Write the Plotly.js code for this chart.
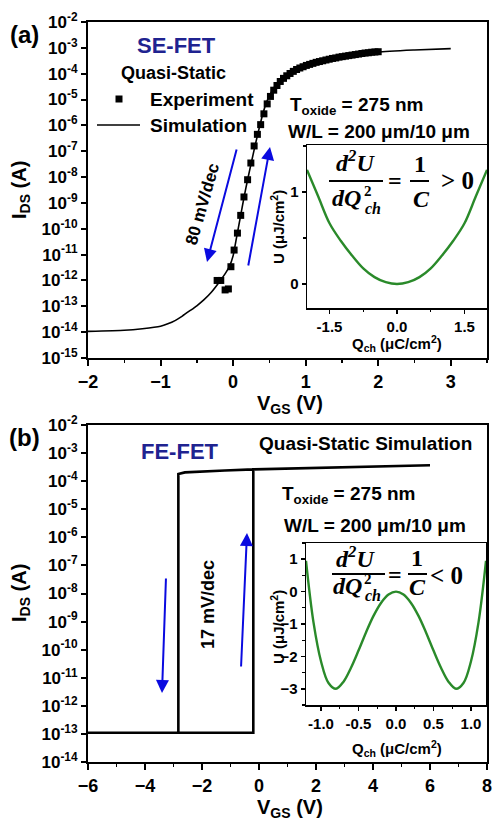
<!DOCTYPE html>
<html>
<head>
<meta charset="utf-8">
<script src="https://cdn.plot.ly/plotly-3.0.1.min.js"></script>
<style>
  html, body { margin: 0; padding: 0; background: #fff; }
  #chart { width: 494px; height: 820px; }
</style>
</head>
<body>
<div id="chart"></div>
<script>
// ---------- (a) SE-FET transfer curve ----------
const seExpVgs = [-0.22, -0.17, -0.11, -0.065, -0.03, 0.014, 0.06, 0.105, 0.15, 0.2,
  0.245, 0.29, 0.335, 0.38, 0.425, 0.47, 0.515, 0.56, 0.605, 0.65,
  0.695, 0.74, 0.785, 0.83, 0.875, 0.92, 0.965, 1.01, 1.055, 1.10,
  1.145, 1.19, 1.235, 1.28, 1.325, 1.37, 1.415, 1.46, 1.505, 1.55,
  1.595, 1.64, 1.685, 1.73, 1.775, 1.82, 1.865, 1.91, 1.955, 2.0];
const seExpIds = [1.0e-12, 1.0e-12, 4.3e-13, 4.7e-13, 3.4e-12, 1.5e-11, 6.8e-11, 3.3e-10, 1.7e-9, 7.9e-9,
  3.5e-8, 1.6e-7, 4.5e-7, 1.07e-6, 2.8e-6, 6.8e-6, 1.32e-5, 2.3e-5, 3.5e-5, 5.0e-5,
  6.6e-5, 8.3e-5, 1.02e-4, 1.23e-4, 1.45e-4, 1.66e-4, 1.86e-4, 2.09e-4, 2.29e-4, 2.51e-4,
  2.75e-4, 2.95e-4, 3.16e-4, 3.39e-4, 3.63e-4, 3.89e-4, 4.07e-4, 4.37e-4, 4.57e-4, 4.79e-4,
  5.01e-4, 5.25e-4, 5.50e-4, 5.75e-4, 6.03e-4, 6.31e-4, 6.46e-4, 6.76e-4, 6.92e-4, 7.08e-4];

const seSimVgs = [-2.0, -1.5, -1.25, -1.0, -0.9, -0.8, -0.7, -0.6, -0.5, -0.4,
  -0.3, -0.2, -0.1, -0.05, 0.0, 0.05, 0.1, 0.15, 0.2, 0.25,
  0.3, 0.35, 0.4, 0.45, 0.5, 0.6, 0.75, 1.0, 1.25, 1.5,
  2.0, 2.5, 3.0];
const seSimIds = [1.07e-14, 1.18e-14, 1.36e-14, 1.7e-14, 2.1e-14, 2.8e-14, 4.2e-14, 6.6e-14, 1.05e-13, 1.8e-13,
  3.5e-13, 8.0e-13, 2.0e-12, 3.5e-12, 8.9e-12, 5.0e-11, 2.8e-10, 1.6e-9, 7.9e-9, 3.5e-8,
  1.5e-7, 6.0e-7, 2.2e-6, 6.5e-6, 1.4e-5, 3.9e-5, 7.4e-5, 1.95e-4, 2.9e-4, 3.9e-4,
  6.9e-4, 8.3e-4, 9.3e-4];

// inset (a): single-well energy U(Q_ch)
const seQch = [-2, -1.75, -1.5, -1.25, -1, -0.75, -0.5, -0.25, 0, 0.25, 0.5, 0.75, 1, 1.25, 1.5, 1.75, 2];
const seU = [1.24, 0.95, 0.66, 0.47, 0.31, 0.17, 0.075, 0.02, 0, 0.02, 0.075, 0.17, 0.31, 0.47, 0.66, 0.95, 1.24];

// ---------- (b) FE-FET hysteresis loop (forward sweep then reverse sweep) ----------
const feVgs = [-6, -0.2, -0.2, 1, 3, 6, 3, 1, -0.2, -1.2, -2.2, -2.6, -2.83, -2.83, -6];
const feIds = [1.1e-13, 1.1e-13, 2.63e-4, 2.8e-4, 3.2e-4, 3.7e-4, 3.2e-4, 2.8e-4, 2.63e-4, 2.4e-4, 2.2e-4, 2.05e-4, 1.8e-4, 1.1e-13, 1.1e-13];

// inset (b): double-well energy U(Q_ch)
const feQch = [-1.2, -1.1, -1.0, -0.9, -0.8, -0.7, -0.6, -0.5, -0.4, -0.3, -0.2, -0.1, 0,
  0.1, 0.2, 0.3, 0.4, 0.5, 0.6, 0.7, 0.8, 0.9, 1.0, 1.1, 1.2];
const feU = [0.95, -0.95, -2.15, -2.82, -3.0, -2.78, -2.35, -1.82, -1.26, -0.75, -0.35, -0.09, 0,
  -0.09, -0.35, -0.75, -1.26, -1.82, -2.35, -2.78, -3.0, -2.82, -2.15, -0.95, 0.95];

// tick labels
const seDecades = [-15, -14, -13, -12, -11, -10, -9, -8, -7, -6, -5, -4, -3, -2];
const feDecades = [-14, -13, -12, -11, -10, -9, -8, -7, -6, -5, -4, -3, -2];
const seVgsTicks = [-2, -1, 0, 1, 2, 3];
const feVgsTicks = [-6, -4, -2, 0, 2, 4, 6, 8];
const seQTicks = [-1.5, 0, 1.5];
const seQTickText = ['-1.5', '0.0', '1.5'];
const seUTicks = [0, 1];
const feQTicks = [-1, -0.5, 0, 0.5, 1];
const feQTickText = ['-1.0', '-0.5', '0.0', '0.5', '1.0'];
const feUTicks = [-3, -2, -1, 0, 1];

// ---------- layout helpers ----------
const W = 494, H = 820;
const px = x => x / W;
const py = y => 1 - y / H;
const FONT = 'Liberation Sans, Arial, Helvetica, sans-serif';
const SERIF = 'Liberation Serif, DejaVu Serif, Times New Roman, serif';
const BLUE = '#0a0ae0';
const NAVY = '#1f2390';
const GREEN = '#2a8a2a';

const powTicks = d => d.map(e => Math.pow(10, e));
const powText = d => d.map(e => '10<sup>' + e + '</sup>');

const mainAxis = {
  showline: true, linecolor: '#000', linewidth: 2, mirror: true,
  ticks: 'outside', ticklen: 6, tickwidth: 2, tickcolor: '#000',
  showgrid: false, zeroline: false,
  tickfont: { family: FONT, size: 18, color: '#000', weight: 'bold' }
};
const insetAxis = {
  showline: true, linecolor: '#000', linewidth: 1.5, mirror: true,
  ticks: 'outside', ticklen: 4, tickwidth: 1.5, tickcolor: '#000',
  showgrid: false, zeroline: false,
  tickfont: { family: FONT, size: 15, color: '#000', weight: 'bold' }
};

const traces = [
  { x: seSimVgs, y: seSimIds, xaxis: 'x', yaxis: 'y', mode: 'lines', name: 'Simulation',
    line: { color: '#000', width: 1.6, shape: 'spline', smoothing: 0.5 } },
  { x: seExpVgs, y: seExpIds, xaxis: 'x', yaxis: 'y', mode: 'markers', name: 'Experiment',
    marker: { symbol: 'square', size: 7, color: '#000' } },
  { x: feVgs, y: feIds, xaxis: 'x2', yaxis: 'y2', mode: 'lines', name: 'Quasi-Static Simulation',
    line: { color: '#000', width: 2.6 } },
  { x: seQch, y: seU, xaxis: 'x3', yaxis: 'y3', mode: 'lines',
    line: { color: GREEN, width: 2.4, shape: 'spline' } },
  { x: feQch, y: feU, xaxis: 'x4', yaxis: 'y4', mode: 'lines',
    line: { color: GREEN, width: 2.4, shape: 'spline' } }
];

function txt(text, x, y, size, opts) {
  return Object.assign({
    text: text, xref: 'paper', yref: 'paper', x: px(x), y: py(y),
    xanchor: 'center', yanchor: 'middle', showarrow: false,
    font: { family: FONT, size: size, color: '#000', weight: 'bold' }
  }, opts || {});
}
function eq(text, x, y, size, opts) {
  return txt(text, x, y, size, Object.assign({
    font: { family: SERIF, size: size, color: '#000', weight: 'bold', style: 'italic' }
  }, opts || {}));
}
function eqUp(text, x, y, size, opts) {
  return txt(text, x, y, size, Object.assign({
    font: { family: SERIF, size: size, color: '#000', weight: 'bold' }
  }, opts || {}));
}
function arrow(tipX, tipY, tailX, tailY) {
  return {
    text: '', xref: 'paper', yref: 'paper', x: px(tipX), y: py(tipY),
    ax: tailX - tipX, ay: tailY - tipY, axref: 'pixel', ayref: 'pixel',
    showarrow: true, arrowhead: 2, arrowsize: 1.3, arrowwidth: 2, arrowcolor: BLUE, standoff: 0
  };
}
function bar(x0, x1, y) {
  return { type: 'line', xref: 'paper', yref: 'paper', x0: px(x0), x1: px(x1), y0: py(y), y1: py(y),
    line: { color: '#000', width: 2 } };
}

const annotations = [
  // panel (a)
  txt('(a)', 24, 34, 24),
  txt('SE-FET', 176, 45, 22, { font: { family: FONT, size: 22, color: NAVY, weight: 'bold' } }),
  txt('Quasi-Static', 173, 73, 18),
  txt('Experiment', 148, 99, 19, { xanchor: 'left' }),
  txt('Simulation', 148, 125, 19, { xanchor: 'left' }),
  txt('T<sub>oxide</sub> = 275 nm', 288, 106, 19, { xanchor: 'left' }),
  txt('W/L = 200 μm/10 μm', 286, 131, 19, { xanchor: 'left' }),
  txt('80 mV/dec', 202, 204, 17, { textangle: -74 }),
  arrow(207, 262, 237, 148),
  arrow(270, 147, 248, 267),
  txt('U (μJ/cm<sup>2</sup>)', 277, 227, 15, { textangle: -90 }),
  txt('Q<sub>ch</sub> (μC/cm<sup>2</sup>)', 397, 344, 15),
  txt('V<sub>GS</sub> (V)', 290, 404, 20),
  txt('I<sub>DS</sub> (A)', 20, 190, 20, { textangle: -90 }),
  eq('d<sup>2</sup>U', 355, 161, 24),
  eq('dQ', 346, 198, 24),
  eqUp('2', 368, 191, 15),
  eq('ch', 373, 208, 16),
  eqUp('=', 395, 181, 24),
  eqUp('1', 420, 164, 24),
  eq('C', 421, 199, 24),
  eqUp('> 0', 457, 181, 25),

  // panel (b)
  txt('(b)', 24, 437, 24),
  txt('FE-FET', 180, 451, 22, { font: { family: FONT, size: 22, color: NAVY, weight: 'bold' } }),
  txt('Quasi-Static Simulation', 365, 443, 19),
  txt('T<sub>oxide</sub> = 275 nm', 280, 495, 19, { xanchor: 'left' }),
  txt('W/L = 200 μm/10 μm', 282, 525, 19, { xanchor: 'left' }),
  txt('17 mV/dec', 208, 605, 18, { textangle: -90 }),
  arrow(162, 693, 166, 577),
  arrow(247, 533, 241, 668),
  txt('U (μJ/cm<sup>2</sup>)', 277, 627, 15, { textangle: -90 }),
  txt('Q<sub>ch</sub> (μC/cm<sup>2</sup>)', 397, 748, 15),
  txt('V<sub>GS</sub> (V)', 290, 808, 20),
  txt('I<sub>DS</sub> (A)', 20, 593, 20, { textangle: -90 }),
  eq('d<sup>2</sup>U', 355, 557, 24),
  eq('dQ', 347, 586, 24),
  eqUp('2', 368, 579, 15),
  eq('ch', 373, 595, 16),
  eqUp('=', 395, 575, 24),
  eqUp('1', 417, 558, 24),
  eq('C', 417, 587, 24),
  eqUp('< 0', 446, 575, 25)
];

const shapes = [
  // legend keys for panel (a)
  { type: 'rect', xref: 'paper', yref: 'paper', x0: px(115.5), x1: px(122.5), y0: py(95.5), y1: py(102.5),
    fillcolor: '#000', line: { width: 0 } },
  { type: 'line', xref: 'paper', yref: 'paper', x0: px(97), x1: px(140), y0: py(125), y1: py(125),
    line: { color: '#000', width: 1.6 } },
  // fraction bars
  bar(329, 383, 181), bar(410, 429, 181),
  bar(332, 385, 574), bar(408, 427, 574)
];

const layout = {
  width: W, height: H,
  margin: { l: 0, r: 0, t: 0, b: 0 },
  paper_bgcolor: '#fff', plot_bgcolor: '#fff',
  showlegend: false,
  xaxis: Object.assign({}, mainAxis, {
    domain: [px(88), px(487)], anchor: 'y', range: [-2, 3.5], tickvals: seVgsTicks,
    minor: { ticks: 'outside', ticklen: 3, tickwidth: 1.5, dtick: 0.5, tickcolor: '#000' }
  }),
  yaxis: Object.assign({}, mainAxis, {
    domain: [py(358), py(22)], anchor: 'x', type: 'log', range: [-15, -2],
    tickvals: powTicks(seDecades), ticktext: powText(seDecades), ticklen: 5,
    tickfont: { family: FONT, size: 17, color: '#000', weight: 'bold' }
  }),
  xaxis2: Object.assign({}, mainAxis, {
    domain: [px(88), px(487)], anchor: 'y2', range: [-6, 8], tickvals: feVgsTicks,
    minor: { ticks: 'outside', ticklen: 3, tickwidth: 1.5, dtick: 1, tickcolor: '#000' }
  }),
  yaxis2: Object.assign({}, mainAxis, {
    domain: [py(762), py(425)], anchor: 'x2', type: 'log', range: [-14, -2],
    tickvals: powTicks(feDecades), ticktext: powText(feDecades), ticklen: 5,
    tickfont: { family: FONT, size: 17, color: '#000', weight: 'bold' }
  }),
  xaxis3: Object.assign({}, insetAxis, {
    domain: [px(307), px(487)], anchor: 'y3', range: [-2, 2],
    tickvals: seQTicks, ticktext: seQTickText,
    minor: { ticks: 'outside', ticklen: 2.5, tickwidth: 1.2, dtick: 0.75, tick0: 0, tickcolor: '#000' }
  }),
  yaxis3: Object.assign({}, insetAxis, {
    domain: [py(308), py(145)], anchor: 'x3', range: [-0.26, 1.51], tickvals: seUTicks,
    minor: { ticks: 'outside', ticklen: 2.5, tickwidth: 1.2, dtick: 0.5, tickcolor: '#000' }
  }),
  xaxis4: Object.assign({}, insetAxis, {
    domain: [px(306), px(486)], anchor: 'y4', range: [-1.2, 1.2],
    tickvals: feQTicks, ticktext: feQTickText,
    minor: { ticks: 'outside', ticklen: 2.5, tickwidth: 1.2, dtick: 0.25, tickcolor: '#000' }
  }),
  yaxis4: Object.assign({}, insetAxis, {
    domain: [py(705), py(543)], anchor: 'x4', range: [-3.5, 1.5], tickvals: feUTicks,
    minor: { ticks: 'outside', ticklen: 2.5, tickwidth: 1.2, dtick: 0.5, tickcolor: '#000' }
  }),
  annotations: annotations,
  shapes: shapes
};

Plotly.newPlot('chart', traces, layout, { staticPlot: true, displayModeBar: false });
</script>
</body>
</html>
